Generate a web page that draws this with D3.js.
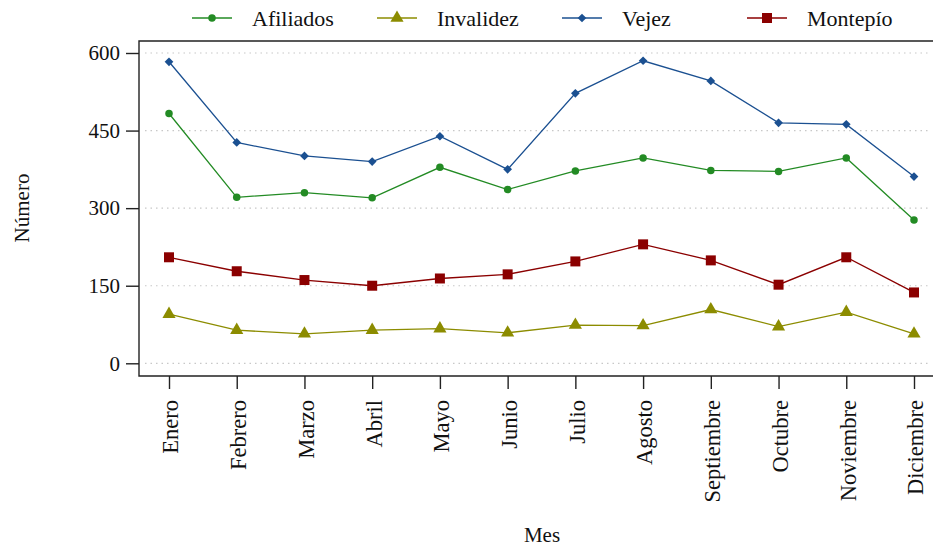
<!DOCTYPE html>
<html>
<head>
<meta charset="utf-8">
<script src="https://cdn.jsdelivr.net/npm/d3@7"></script>
<style>
  body { margin: 0; background: #fff; }
  text { font-family: "Liberation Serif", "DejaVu Serif", serif; fill: #111; }
</style>
</head>
<body>
<div id="chart"></div>
<script>
// chart data
let meses = ["Enero","Febrero","Marzo","Abril","Mayo","Junio","Julio","Agosto",
             "Septiembre","Octubre","Noviembre","Diciembre"]
let afiliados = [483,321,330,320,379,336,372,397,373,371,397,277]
let invalidez = [95,64,57,64,67,59,74,73,104,71,99,57]
let vejez     = [583,427,401,390,439,375,522,585,546,465,462,361]
let montepio  = [205,178,161,150,164,172,197,230,199,152,205,137]
let yTicks = [0,150,300,450,600]

let series = [
  {name: "Afiliados", values: afiliados, color: "#238b24", shape: "circle"},
  {name: "Invalidez", values: invalidez, color: "#8c8c00", shape: "triangle"},
  {name: "Vejez",     values: vejez,     color: "#1b5091", shape: "diamond"},
  {name: "Montepío",  values: montepio,  color: "#8b0000", shape: "square"}
]

let W = 933, H = 547
let frameL = 139, frameT = 41, frameR = 940, frameB = 376

let svg = d3.select("#chart").append("svg")
  .attr("width", W)
  .attr("height", H)

let x = d3.scalePoint().domain(meses).range([169, 914])
let y = d3.scaleLinear().domain([0, 600]).range([363.3, 53])

// grid lines
svg.append("g")
  .selectAll("line")
  .data(yTicks)
  .enter()
  .append("line")
  .attr("x1", 145)
  .attr("x2", 930)
  .attr("y1", d => y(d))
  .attr("y2", d => y(d))
  .attr("stroke", "#c8c8c8")
  .attr("stroke-width", 1.2)
  .attr("stroke-dasharray", "1.5,4")

// frame (left, top, bottom)
svg.append("path")
  .attr("d", `M${frameR},${frameT}H${frameL}V${frameB}H${frameR}`)
  .attr("fill", "none")
  .attr("stroke", "#222")
  .attr("stroke-width", 1.4)

// y axis
let yAxis = svg.append("g")
  .attr("transform", `translate(${frameL},0)`)
  .call(d3.axisLeft(y).tickValues(yTicks).tickSize(13).tickPadding(6))
yAxis.select(".domain").remove()
yAxis.selectAll(".tick line").attr("stroke", "#222").attr("stroke-width", 1.4)
yAxis.selectAll(".tick text")
  .style("font-family", '"Liberation Serif", serif')
  .style("font-size", "21px")
  .attr("fill", "#111")

// x axis
let xAxis = svg.append("g")
  .attr("transform", `translate(0,${frameB})`)
  .call(d3.axisBottom(x).tickSize(13).tickPadding(6))
xAxis.select(".domain").remove()
xAxis.selectAll(".tick line").attr("stroke", "#222").attr("stroke-width", 1.4)
xAxis.selectAll(".tick text")
  .style("font-family", '"Liberation Serif", serif')
  .style("font-size", "22.5px")
  .attr("fill", "#111")
  .attr("text-anchor", "end")
  .attr("dy", "0.35em")
  .attr("transform", "translate(1,24) rotate(-90)")
  .attr("x", 0)
  .attr("y", 0)

// axis titles
svg.append("text")
  .attr("x", 542)
  .attr("y", 542)
  .attr("text-anchor", "middle")
  .style("font-size", "21px")
  .text("Mes")

svg.append("text")
  .attr("transform", "translate(29,208) rotate(-90)")
  .attr("text-anchor", "middle")
  .style("font-size", "21px")
  .text("Número")

// marker drawing
let symbolTypes = {
  circle: d3.symbolCircle,
  triangle: d3.symbolTriangle,
  diamond: d3.symbolSquare,
  square: d3.symbolSquare
}
let symbolSizes = {circle: 44, triangle: 75, diamond: 38, square: 100}

function drawMarker(g, shape, color) {
  g.append("path")
    .attr("d", d3.symbol().type(symbolTypes[shape]).size(symbolSizes[shape])())
    .attr("transform", shape == "diamond" ? "rotate(45)" : null)
    .attr("fill", color)
}

let line = d3.line()
  .x((d, i) => x(meses[i]))
  .y(d => y(d))

series.forEach(s => {
  svg.append("path")
    .datum(s.values)
    .attr("d", line)
    .attr("fill", "none")
    .attr("stroke", s.color)
    .attr("stroke-width", 1.3)

  svg.append("g")
    .selectAll("g")
    .data(s.values)
    .enter()
    .append("g")
    .attr("transform", (d, i) => `translate(${x(meses[i])},${y(d)})`)
    .each(function() { drawMarker(d3.select(this), s.shape, s.color) })
})

// legend
let legend = svg.append("g")
  .selectAll("g")
  .data(series)
  .enter()
  .append("g")
  .attr("transform", (d, i) => `translate(${192 + i * 185},18)`)

legend.append("line")
  .attr("x1", 0)
  .attr("x2", 40)
  .attr("stroke", d => d.color)
  .attr("stroke-width", 1.3)

legend.each(function(d) {
  let g = d3.select(this).append("g").attr("transform", "translate(20,0)")
  drawMarker(g, d.shape, d.color)
})

legend.append("text")
  .attr("x", 60)
  .attr("dy", "0.35em")
  .style("font-size", "22px")
  .text(d => d.name)
</script>
</body>
</html>
